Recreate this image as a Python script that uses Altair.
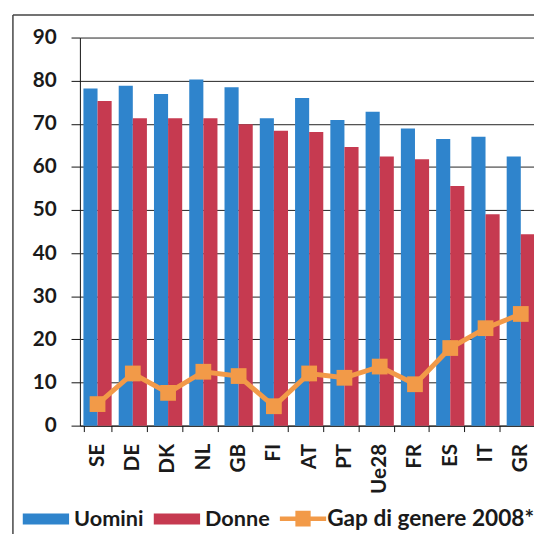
import altair as alt
import pandas as pd

paesi = ["SE", "DE", "DK", "NL", "GB", "FI", "AT", "PT", "Ue28", "FR", "ES", "IT", "GR"]
uomini = [78.2, 78.8, 76.9, 80.3, 78.5, 71.3, 76.0, 70.9, 72.8, 68.9, 66.5, 67.0, 62.4]
donne = [75.3, 71.3, 71.3, 71.3, 69.9, 68.4, 68.1, 64.6, 62.4, 61.8, 55.6, 49.0, 44.4]
gap = [5.0, 12.1, 7.6, 12.5, 11.5, 4.5, 12.1, 11.1, 13.7, 9.6, 18.0, 22.6, 25.9]
serie = ["Uomini", "Donne"]
gap_label = "Gap di genere 2008*"
y_ticks = [0, 10, 20, 30, 40, 50, 60, 70, 80, 90]

BLUE = "#2F84CC"
RED = "#C63A50"
ORANGE = "#F29A48"
FONT = "Lato"

bars_df = pd.DataFrame({
    "paese": paesi + paesi,
    "serie": [serie[0]] * len(paesi) + [serie[1]] * len(paesi),
    "valore": uomini + donne,
})
gap_df = pd.DataFrame({"paese": paesi, "serie": [gap_label] * len(paesi), "valore": gap})

W = 461
H = 394
X_RANGE = 465.5

RECT_PATH = "M-1,-0.24H1V0.24H-1Z"
GAP_PATH = "M-1,-0.1H-0.33V-0.34H0.33V-0.1H1V0.1H0.33V0.34H-0.33V0.1H-1Z"

x_enc = alt.X(
    "paese:N", sort=paesi,
    scale=alt.Scale(paddingInner=0.2, paddingOuter=0.1, range=[0, X_RANGE]),
    axis=alt.Axis(title=None, labelAngle=270, tickBand="extent", tickSize=6,
                  labelPadding=12, labelFont=FONT, labelFontSize=21,
                  labelFontWeight="bold", labelColor="#1a1a1a",
                  domainColor="#111", tickColor="#111", grid=False),
)
y_enc = alt.Y(
    "valore:Q",
    scale=alt.Scale(domain=[0, 90], nice=False),
    axis=alt.Axis(title=None, values=y_ticks, tickSize=9, labelPadding=15,
                  labelFont=FONT, labelFontSize=21, labelFontWeight="bold",
                  labelColor="#1a1a1a", domainColor="#111", tickColor="#111",
                  grid=True, gridColor="#222", gridWidth=1),
)

bars = alt.Chart(bars_df).mark_bar().encode(
    x=x_enc,
    xOffset=alt.XOffset("serie:N", sort=serie, scale=alt.Scale(paddingInner=0, paddingOuter=0)),
    y=y_enc,
    color=alt.Color(
        "serie:N",
        scale=alt.Scale(domain=serie, range=[BLUE, RED]),
        legend=alt.Legend(title=None, orient="none", legendX=-58, legendY=465,
                          direction="horizontal", symbolType=RECT_PATH, symbolSize=2209,
                          symbolStrokeWidth=0, labelFont=FONT, labelFontSize=22,
                          labelFontWeight="bold", labelColor="#1a1a1a",
                          columnPadding=10, labelOffset=5, padding=0, labelLimit=400),
    ),
)

line = alt.Chart(gap_df).mark_line(color=ORANGE, strokeWidth=5).encode(
    x=alt.X("paese:N", sort=paesi),
    y=alt.Y("valore:Q"),
)

points = alt.Chart(gap_df).mark_point(filled=True, shape="square", size=256, opacity=1).encode(
    x=alt.X("paese:N", sort=paesi),
    y=alt.Y("valore:Q"),
    fill=alt.Fill(
        "serie:N",
        scale=alt.Scale(domain=[gap_label], range=[ORANGE]),
        legend=alt.Legend(title=None, orient="none", legendX=203, legendY=465,
                          symbolType=GAP_PATH, symbolSize=2209, symbolStrokeWidth=0,
                          labelFont=FONT, labelFontSize=23, labelFontWeight="bold",
                          labelColor="#1a1a1a", labelOffset=1, padding=0, labelLimit=400),
    ),
)

one = pd.DataFrame({"k": [0]})
frame_top = alt.Chart(one).mark_rule(color="#444", strokeWidth=1.5).encode(
    x=alt.value(-68), x2=alt.value(W + 40), y=alt.value(-23)
)
frame_left = alt.Chart(one).mark_rule(color="#444", strokeWidth=1.5).encode(
    x=alt.value(-68), y=alt.value(-23), y2=alt.value(530)
)

chart = alt.layer(bars, line, points, frame_top, frame_left).properties(
    width=W, height=H,
    autosize=alt.AutoSizeParams(type="none"),
    padding={"left": 73, "top": 26, "right": 0, "bottom": 106},
    background="white",
).resolve_scale(
    color="independent", fill="independent"
).configure_view(stroke=None)

chart.save("out.html", embed_options={"renderer": "svg", "actions": False})
